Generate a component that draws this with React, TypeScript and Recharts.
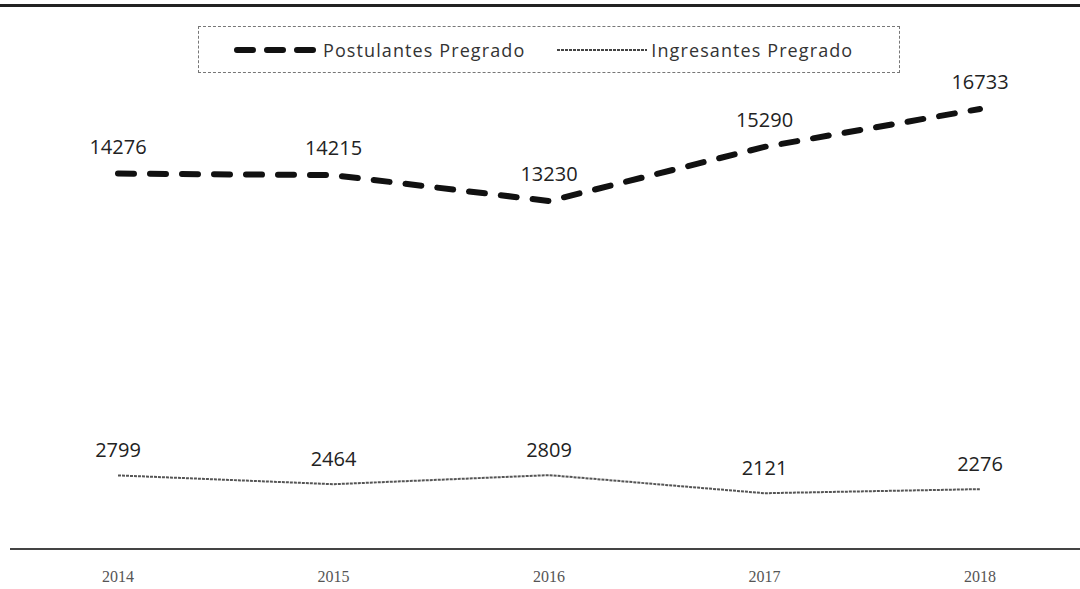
import React from "react";
import { LineChart, Line, XAxis, YAxis, LabelList } from "recharts";

const years = ["2014", "2015", "2016", "2017", "2018"];
const postulantes = [14276, 14215, 13230, 15290, 16733];
const ingresantes = [2799, 2464, 2809, 2121, 2276];

const data = years.map((year, i) => ({
  year,
  postulantes: postulantes[i],
  ingresantes: ingresantes[i],
}));

const labelFont = "'Open Sans', sans-serif";

const LegendBox: React.FC = () => (
  <div
    style={{
      position: "absolute",
      left: 198,
      top: 26,
      width: 702,
      height: 47,
      boxSizing: "border-box",
      border: "1px dashed #777",
      display: "flex",
      alignItems: "center",
      fontFamily: labelFont,
      fontSize: 18,
      color: "#333",
      letterSpacing: 1.1,
    }}
  >
    <svg width={90} height={10} style={{ marginLeft: 34 }}>
      <line
        x1={4}
        y1={5}
        x2={86}
        y2={5}
        stroke="#111"
        strokeWidth={6}
        strokeDasharray="16 14"
        strokeLinecap="round"
      />
    </svg>
    <span style={{ marginLeft: 0 }}>Postulantes Pregrado</span>
    <svg width={92} height={10} style={{ marginLeft: 30 }}>
      <line x1={2} y1={5} x2={92} y2={5} stroke="#444" strokeWidth={2} strokeDasharray="3 1" />
    </svg>
    <span style={{ marginLeft: 4 }}>Ingresantes Pregrado</span>
  </div>
);

export default function App() {
  return (
    <div
      style={{
        position: "absolute",
        left: 0,
        top: 0,
        width: 1080,
        height: 589,
        background: "#fff",
      }}
    >
      <div
        style={{
          position: "absolute",
          left: 0,
          top: 4,
          width: 1080,
          height: 0,
          borderTop: "3px solid #222",
        }}
      />
      <LineChart
        width={1080}
        height={589}
        data={data}
        margin={{ top: 23, right: 0, left: 10, bottom: 5 }}
      >
        <XAxis
          dataKey="year"
          height={35}
          padding={{ left: 108, right: 100 }}
          axisLine={{ stroke: "#444", strokeWidth: 2 }}
          tickLine={false}
          tickMargin={16}
          tick={{ fill: "#555", fontSize: 16, fontFamily: "'Liberation Serif', serif" }}
        />
        <YAxis hide domain={[0, 20000]} />
        <Line
          type="linear"
          dataKey="postulantes"
          name="Postulantes Pregrado"
          stroke="#111"
          strokeWidth={6}
          strokeDasharray="16 16"
          strokeLinecap="round"
          dot={false}
          isAnimationActive={false}
        >
          <LabelList
            dataKey="postulantes"
            position="top"
            offset={20}
            fill="#222"
            fontSize={20}
            fontFamily={labelFont}
          />
        </Line>
        <Line
          type="linear"
          dataKey="ingresantes"
          name="Ingresantes Pregrado"
          stroke="#555"
          strokeWidth={2}
          strokeDasharray="3 1"
          dot={false}
          isAnimationActive={false}
        >
          <LabelList
            dataKey="ingresantes"
            position="top"
            offset={18}
            fill="#222"
            fontSize={20}
            fontFamily={labelFont}
          />
        </Line>
      </LineChart>
      <LegendBox />
    </div>
  );
}
